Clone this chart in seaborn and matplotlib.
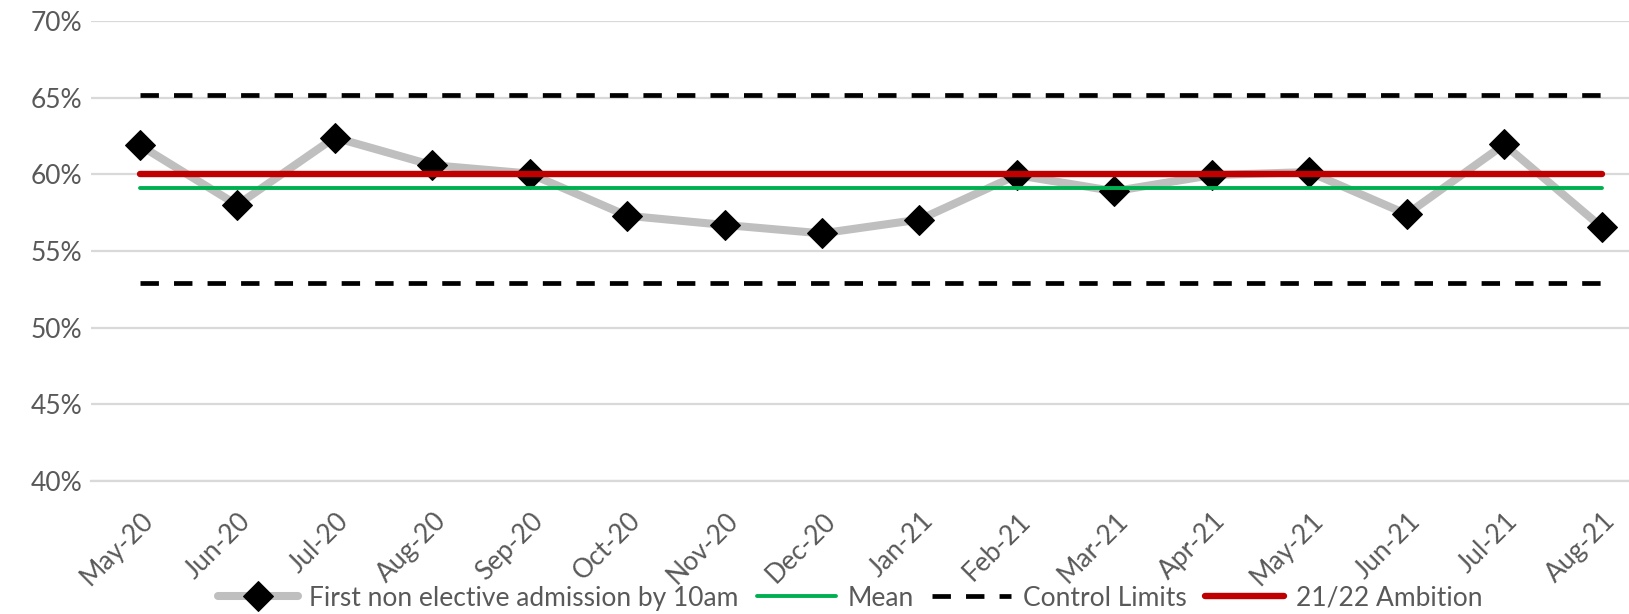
import matplotlib
matplotlib.use("Agg")
import matplotlib.pyplot as plt
from matplotlib.ticker import FixedLocator, PercentFormatter
from matplotlib.transforms import ScaledTranslation
import seaborn as sns
import pandas as pd

months = ["May-20", "Jun-20", "Jul-20", "Aug-20", "Sep-20", "Oct-20", "Nov-20", "Dec-20",
          "Jan-21", "Feb-21", "Mar-21", "Apr-21", "May-21", "Jun-21", "Jul-21", "Aug-21"]
admission_pct = [61.9, 58.0, 62.4, 60.6, 60.05, 57.3, 56.7, 56.15,
                 57.05, 59.95, 58.9, 59.95, 60.15, 57.4, 61.95, 56.55]
mean_pct = 59.1
upper_limit_pct = 65.2
lower_limit_pct = 52.9
ambition_pct = 60.0

sns.set_style("white")
plt.rcParams["font.family"] = ["Lato", "DejaVu Sans"]

pos = list(range(len(months)))
df = pd.DataFrame({
    "pos": pos,
    "value": admission_pct,
    "mean": [mean_pct] * len(months),
    "ucl": [upper_limit_pct] * len(months),
    "lcl": [lower_limit_pct] * len(months),
    "ambition": [ambition_pct] * len(months),
})

fig = plt.figure(figsize=(16.29, 6.14), dpi=100)
ax = fig.add_axes([91 / 1629, 1 - 481 / 614, 1 - 91 / 1629, (481 - 21) / 614])

grid_c = "#D9D9D9"
text_c = "#595959"

sns.lineplot(data=df, x="pos", y="value", ax=ax, color="#BFBFBF", linewidth=5.8,
             marker="D", markersize=15, markerfacecolor="black", markeredgecolor="black",
             label="First non elective admission by 10am", zorder=3)
sns.lineplot(data=df, x="pos", y="mean", ax=ax, color="#00B050", linewidth=2.8,
             label="Mean", zorder=4)
sns.lineplot(data=df, x="pos", y="ucl", ax=ax, color="black", linewidth=3.4,
             label="Control Limits", zorder=4)
sns.lineplot(data=df, x="pos", y="lcl", ax=ax, color="black", linewidth=3.4,
             label="_lcl", zorder=4)
sns.lineplot(data=df, x="pos", y="ambition", ax=ax, color="#C00000", linewidth=4.6,
             label="21/22 Ambition", zorder=5)

lines = ax.get_lines()
for ln in lines[2:4]:
    ln.set_dashes((3.9, 3.2))
    ln.set_dash_capstyle("butt")
for ln in lines[1:]:
    ln.set_solid_capstyle("round")
lines[0].set_solid_capstyle("round")
lines[0].set_solid_joinstyle("round")

ax.set_ylim(40, 70)
ax.set_xlim(-0.5, 15.28)
ax.yaxis.set_major_locator(FixedLocator([40, 45, 50, 55, 60, 65, 70]))
ax.yaxis.set_major_formatter(PercentFormatter(decimals=0))
ax.grid(axis="y", color=grid_c, linewidth=1.6)
ax.set_axisbelow(True)

ax.set_xticks(pos)
ax.set_xticklabels(months)
ax.xaxis.set_minor_locator(FixedLocator([p - 0.5 for p in pos] + [len(pos) - 0.5]))
ax.tick_params(axis="x", which="major", length=0, pad=19.5, labelsize=19, labelcolor=text_c)
ax.tick_params(axis="x", which="minor", length=9, width=1.6, color=grid_c)
ax.tick_params(axis="y", length=0, pad=6, labelsize=19, labelcolor=text_c)
shift = ScaledTranslation(1 / 100, 0, fig.dpi_scale_trans)
for lab in ax.get_xticklabels():
    lab.set_rotation(45)
    lab.set_ha("right")
    lab.set_va("top")
    lab.set_rotation_mode("anchor")
    lab.set_transform(lab.get_transform() + shift)

for side in ["top", "right", "left"]:
    ax.spines[side].set_visible(False)
ax.spines["bottom"].set_color(grid_c)
ax.spines["bottom"].set_linewidth(1.6)
ax.set_xlabel("")
ax.set_ylabel("")

handles = [lines[0], lines[1], lines[2], lines[4]]
labels = ["First non elective admission by 10am", "Mean", "Control Limits", "21/22 Ambition"]
if ax.get_legend():
    ax.get_legend().remove()
fig.legend(handles, labels, loc="center", bbox_to_anchor=(0.522, 0.026), ncol=4,
           frameon=False, fontsize=19, handlelength=3.0, handletextpad=0.45,
           columnspacing=0.68, labelcolor=text_c, borderaxespad=0)

fig.savefig("out.png", dpi=100)
